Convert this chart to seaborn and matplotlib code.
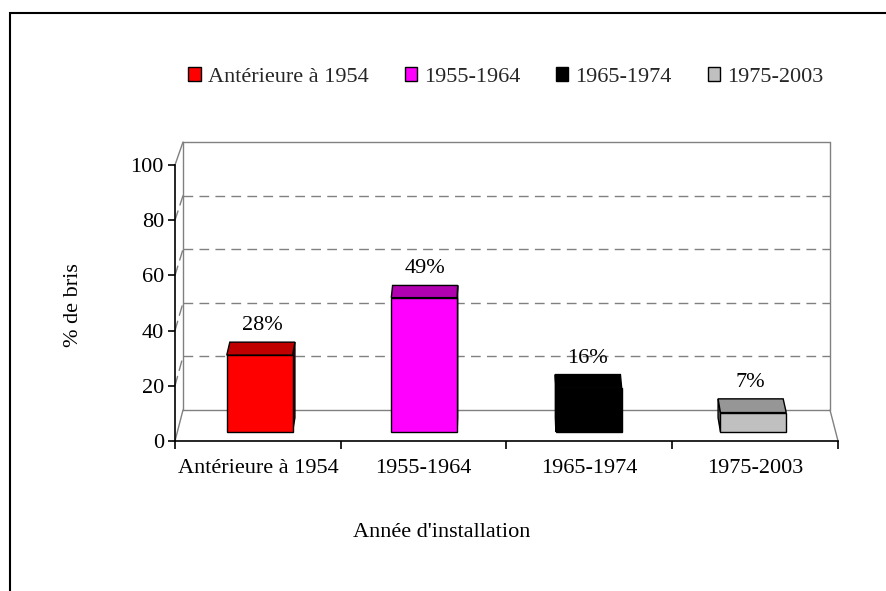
import matplotlib
matplotlib.use("Agg")
import matplotlib.pyplot as plt
import seaborn as sns
from matplotlib.patches import Polygon, Patch, Rectangle, ConnectionPatch

# values
categories = ["Antérieure à 1954", "1955-1964", "1965-1974", "1975-2003"]
pct_bris = [28, 49, 16, 7]
y_ticks = [0, 20, 40, 60, 80, 100]

# excel style colours: front face, top face, side face
bar_colors = ["#FF0000", "#FF00FF", "#000000", "#C0C0C0"]
top_colors = ["#C00000", "#B000B0", "#000000", "#969696"]
side_colors = ["#A00000", "#900090", "#000000", "#808080"]

sns.set_theme(style="ticks")
plt.rcParams["font.family"] = ["Liberation Serif", "DejaVu Serif"]
plt.rcParams["font.size"] = 16

W, H = 886, 591
fig = plt.figure(figsize=(W / 100, H / 100), dpi=100)
fig.patch.set_facecolor("white")

# pixel boxes (left, right, bottom, top) of the front plane and the back wall
front = (175, 838, 441, 165)
back = (183, 830, 410, 142)


def depth_box(d):
    l, r, b, t = [f + d * (k - f) for f, k in zip(front, back)]
    return [l / W, 1 - b / H, (r - l) / W, (b - t) / H]


ax_back = fig.add_axes(depth_box(1.0), zorder=0)
ax_top = fig.add_axes(depth_box(0.75), zorder=1)   # back edge of the bars
ax = fig.add_axes(depth_box(0.0), zorder=2)
ax_bar = fig.add_axes(depth_box(0.3), zorder=3)    # front face of the bars

# bars
sns.barplot(x=categories, y=pct_bris, hue=categories, palette=bar_colors,
            saturation=1, width=0.4, edgecolor="black", linewidth=1,
            legend=False, ax=ax_bar)
for p in ax_bar.patches:
    p.set_clip_on(False)

for a in (ax_back, ax_top, ax, ax_bar):
    a.set_xlim(-0.5, 3.5)
    a.set_ylim(0, 100)
for a in (ax_back, ax_top, ax_bar):
    a.set_xticks([])
    a.set_yticks([])
    a.set_xlabel("")
    a.set_ylabel("")
    for s in a.spines.values():
        s.set_visible(False)
for a in (ax_top, ax, ax_bar):
    a.set_facecolor("none")

# back wall + floor
grid_kw = dict(color="#808080", lw=1)
dash = (0, (7, 4.5))
for v in y_ticks:
    ax_back.axhline(v, ls="-" if v in (0, 100) else dash, clip_on=False, **grid_kw)
ax_back.axvline(-0.5, clip_on=False, **grid_kw)
ax_back.axvline(3.5, clip_on=False, **grid_kw)

# left wall and floor edges
for v in y_ticks:
    fig.add_artist(ConnectionPatch((-0.5, v), (-0.5, v), ax.transData, ax_back.transData,
                                   ls="-" if v in (0, 100) else dash, **grid_kw))
fig.add_artist(ConnectionPatch((3.5, 0), (3.5, 0), ax.transData, ax_back.transData, **grid_kw))

# top and side faces of the bars
to_bar = ax_bar.transData.inverted()
bars = sorted(ax_bar.patches, key=lambda p: p.get_x())
for p, v, tc, sc in zip(bars, pct_bris, top_colors, side_colors):
    x0 = p.get_x()
    x1 = x0 + p.get_width()
    ba = to_bar.transform(ax_top.transData.transform((x0, v)))
    bb = to_bar.transform(ax_top.transData.transform((x1, v)))
    if bb[0] > x1:
        b0 = to_bar.transform(ax_top.transData.transform((x1, 0)))
        ax_bar.add_patch(Polygon([(x1, 0), (x1, v), bb, b0], closed=True, fc=sc,
                                 ec="black", lw=1, clip_on=False, zorder=0.5))
    if ba[0] < x0:
        b0 = to_bar.transform(ax_top.transData.transform((x0, 0)))
        ax_bar.add_patch(Polygon([(x0, 0), (x0, v), ba, b0], closed=True, fc=sc,
                                 ec="black", lw=1, clip_on=False, zorder=0.5))
    ax_bar.add_patch(Polygon([(x0, v), (x1, v), bb, ba], closed=True, fc=tc,
                             ec="black", lw=1, clip_on=False, zorder=3))
    ax_bar.annotate(f"{v}%", xy=((ba[0] + bb[0]) / 2, ba[1]), xytext=(0, 12),
                    textcoords="offset pixels", ha="center", va="baseline",
                    fontsize=16, color="black", annotation_clip=False)

# front axes
ax.spines["top"].set_visible(False)
ax.spines["right"].set_visible(False)
for s in ("left", "bottom"):
    ax.spines[s].set_color("black")
    ax.spines[s].set_linewidth(1.2)
ax.set_yticks(y_ticks)
ax.tick_params(axis="y", length=5, width=1.2, pad=3, colors="black", labelsize=16)
ax.set_xticks(range(len(categories)), categories)
ax.set_xticks([-0.5, 0.5, 1.5, 2.5, 3.5], minor=True)
ax.tick_params(axis="x", which="major", length=0, pad=13, labelsize=16, colors="black")
ax.tick_params(axis="x", which="minor", length=6, width=1.2, color="black")
ax.set_xlabel("Année d'installation", fontsize=16, color="black")
ax.xaxis.set_label_coords(0.402, -0.297)
ax.set_ylabel("% de bris", fontsize=16, color="black")
ax.yaxis.set_label_coords(-0.139, 0.493)

# legend on top
handles = [Patch(fc=c, ec="black", lw=1) for c in bar_colors]
fig.legend(handles, categories, loc="center", bbox_to_anchor=(506 / W, 1 - 77 / H),
           ncol=4, frameon=False, handlelength=0.55, handleheight=0.55,
           handletextpad=0.32, columnspacing=1.62, fontsize=16)

# chart area border (only top/left edges fall inside the picture)
fig.add_artist(Rectangle((10 / W, -0.1), 1.2, 1.1 - 13 / H, transform=fig.transFigure,
                         fill=False, ec="black", lw=1.5, clip_on=False))

fig.savefig("out.png", dpi=100)
